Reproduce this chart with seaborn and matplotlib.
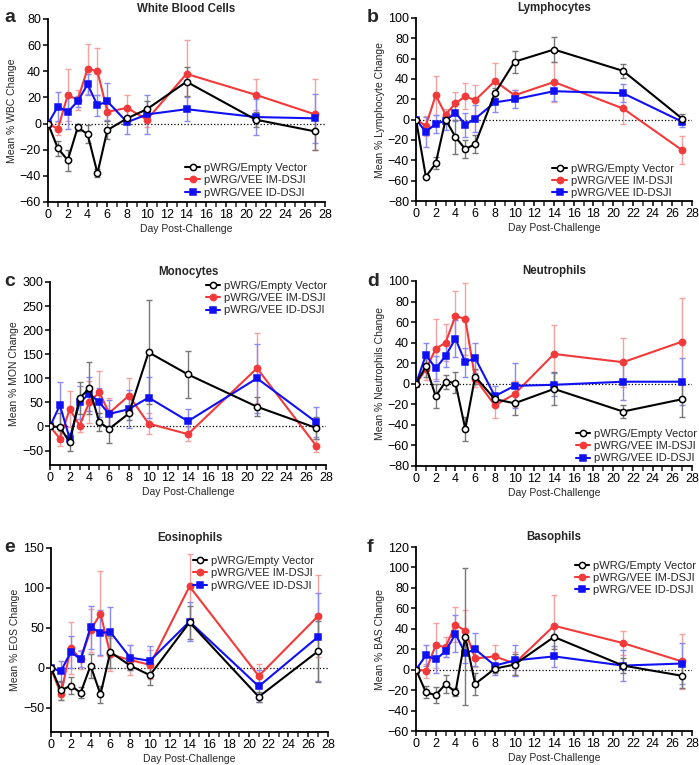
import matplotlib
matplotlib.use("Agg")
import numpy as np
import pandas as pd
import seaborn as sns
import matplotlib.pyplot as plt
from matplotlib.ticker import MultipleLocator

sns.set_style("ticks")
plt.rcParams['font.family'] = ['Liberation Sans', 'DejaVu Sans']

# days sampled
days = [0, 1, 2, 3, 4, 5, 6, 8, 10, 14, 21, 27]
groups = ['pWRG/Empty Vector', 'pWRG/VEE IM-DSJI', 'pWRG/VEE ID-DSJI']

# a - white blood cells
wbc_empty = [0, -19, -28, -3, -8, -38, -5, 4, 11, 32, 3, -6]
wbc_empty_err = [0, 6, 8, 3, 7, 3, 7, 2, 6, 11, 6, 14]
wbc_im = [0, -4, 22, 18, 42, 40, 9, 12, 3, 38, 22, 7]
wbc_im_err = [0, 5, 20, 8, 19, 18, 7, 10, 6, 26, 12, 27]
wbc_id = [0, 13, 9, 17, 30, 14, 17, 1, 7, 11, 5, 4]
wbc_id_err = [0, 11, 13, 4, 8, 8, 14, 9, 15, 9, 14, 19]

# b - lymphocytes
lym_empty = [0, -56, -43, 0, -17, -29, -24, 26, 57, 69, 48, 1]
lym_empty_err = [0, 2, 6, 3, 17, 9, 9, 5, 11, 12, 7, 5]
lym_im = [0, -6, 24, 5, 16, 23, 19, 38, 24, 37, 11, -30]
lym_im_err = [0, 10, 19, 5, 11, 13, 15, 18, 5, 20, 15, 14]
lym_id = [0, -12, -4, -1, 7, -5, 1, 17, 20, 28, 26, -2]
lym_id_err = [0, 15, 9, 9, 8, 12, 13, 9, 9, 10, 9, 5]

# c - monocytes
mon_empty = [0, -1, -33, 59, 79, 9, -5, 27, 154, 108, 41, -3]
mon_empty_err = [0, 30, 17, 33, 54, 19, 30, 13, 108, 48, 20, 22]
mon_im = [0, -25, 36, 2, 51, 71, 28, 64, 6, -16, 121, -40]
mon_im_err = [0, 16, 38, 13, 44, 44, 31, 37, 21, 15, 73, 13]
mon_id = [0, 44, -25, 50, 68, 50, 26, 36, 60, 11, 100, 9]
mon_id_err = [0, 48, 12, 35, 35, 30, 30, 40, 43, 26, 72, 31]

# d - neutrophils
neu_empty = [0, 17, -12, 2, 1, -44, 7, -15, -19, -5, -27, -15]
neu_empty_err = [0, 10, 12, 7, 10, 12, 7, 5, 11, 16, 6, 17]
neu_im = [0, 14, 34, 40, 66, 63, 5, -21, -10, 29, 21, 41]
neu_im_err = [0, 10, 29, 18, 24, 35, 8, 12, 13, 28, 24, 42]
neu_id = [0, 28, 15, 27, 44, 21, 25, -12, -2, -1, 2, 2]
neu_id_err = [0, 12, 12, 11, 18, 14, 15, 10, 22, 11, 18, 23]

# e - eosinophils
eos_empty = [0, -28, -22, -31, 3, -33, 20, 3, -9, 57, -36, 21]
eos_empty_err = [0, 12, 11, 7, 15, 11, 20, 6, 12, 21, 6, 38]
eos_im = [0, -33, 25, 11, 47, 68, 17, 10, 4, 102, -10, 65]
eos_im_err = [0, 7, 33, 12, 27, 53, 21, 19, 18, 40, 15, 51]
eos_id = [0, -4, 20, 11, 51, 44, 45, 13, 9, 58, -23, 39]
eos_id_err = [0, 13, 20, 10, 27, 28, 31, 16, 18, 24, 20, 55]

# f - basophils
bas_empty = [0, -22, -25, -14, -22, 32, -14, 1, 5, 32, 4, -6]
bas_empty_err = [0, 6, 8, 9, 4, 67, 11, 4, 10, 12, 7, 12]
bas_im = [0, -1, 24, 22, 44, 38, 11, 13, 6, 43, 26, 8]
bas_im_err = [0, 7, 22, 10, 17, 20, 8, 11, 11, 30, 12, 27]
bas_id = [0, 14, 10, 18, 35, 16, 20, 4, 9, 13, 4, 6]
bas_id_err = [0, 10, 13, 6, 18, 9, 16, 9, 15, 10, 15, 20]

panels = [
    ('a', 'White Blood Cells', 'Mean % WBC Change', (wbc_empty, wbc_im, wbc_id),
     (wbc_empty_err, wbc_im_err, wbc_id_err), (-60, 80), 20),
    ('b', 'Lymphocytes', 'Mean % Lymphocyte Change', (lym_empty, lym_im, lym_id),
     (lym_empty_err, lym_im_err, lym_id_err), (-80, 100), 20),
    ('c', 'Monocytes', 'Mean % MON Change', (mon_empty, mon_im, mon_id),
     (mon_empty_err, mon_im_err, mon_id_err), (-80, 300), 50),
    ('d', 'Neutrophils', 'Mean % Neutrophils Change', (neu_empty, neu_im, neu_id),
     (neu_empty_err, neu_im_err, neu_id_err), (-80, 100), 20),
    ('e', 'Eosinophils', 'Mean % EOS Change', (eos_empty, eos_im, eos_id),
     (eos_empty_err, eos_im_err, eos_id_err), (-80, 150), 50),
    ('f', 'Basophils', 'Mean % BAS Change', (bas_empty, bas_im, bas_id),
     (bas_empty_err, bas_im_err, bas_id_err), (-60, 120), 20),
]

W, H = 699, 765
# axes boxes in pixels: left, top, right, bottom
boxes = [(48, 19, 325, 202), (416, 18, 692, 201),
         (50, 282, 326, 465), (416, 281, 692, 466),
         (51, 548, 328, 732), (416, 547, 692, 731)]
letter_pos = [(4, 18), (367, 18), (4, 282), (367, 282), (4, 547), (367, 547)]
# legend corner (axes fraction) and which corner
leg_loc = [('lower right', (0.95, 0.0)), ('lower right', (0.95, -0.01)),
           ('upper right', (1.02, 1.03)), ('lower right', (1.035, -0.01)),
           ('upper right', (0.965, 0.98)), ('upper right', (1.03, 0.95))]

colors = ['black', '#f23a3a', '#1010f5']
err_colors = ['#777777', '#f7a0a0', '#8a8af7']
markers = ['o', 'o', 's']

fig = plt.figure(figsize=(W / 100, H / 100), dpi=100)

for i, (letter, title, ylabel, series, errs, ylim, ystep) in enumerate(panels):
    l, t, r, b = boxes[i]
    ax = fig.add_axes([l / W, 1 - b / H, (r - l) / W, (b - t) / H])
    ax.axhline(0, color='black', ls=':', lw=0.9, zorder=1)
    # error bars first, under the lines
    for k in [1, 2, 0]:
        ax.errorbar(days, series[k], yerr=errs[k], fmt='none', ecolor=err_colors[k],
                    elinewidth=1.0, capsize=2.5, capthick=1.0, zorder=2)
    for k in [1, 2, 0]:
        df = pd.DataFrame({'day': days, 'value': series[k]})
        sns.lineplot(data=df, x='day', y='value', ax=ax, color=colors[k], lw=1.5,
                     marker=markers[k], markersize=4.5,
                     markerfacecolor='white' if k == 0 else colors[k],
                     markeredgecolor=colors[k], markeredgewidth=1.1,
                     label=groups[k], zorder=3 + (k == 0))
    ax.set_xlim(0, 28)
    ax.set_ylim(*ylim)
    ax.xaxis.set_major_locator(MultipleLocator(2))
    ax.xaxis.set_minor_locator(MultipleLocator(1))
    ax.yaxis.set_major_locator(MultipleLocator(ystep))
    ax.tick_params(axis='both', which='major', labelsize=9, length=3.5, width=1.1,
                   pad=1.5, direction='out', colors='black')
    ax.tick_params(axis='x', which='minor', length=3.5, width=1.1)
    for s in ['left', 'bottom']:
        ax.spines[s].set_linewidth(1.3)
        ax.spines[s].set_color('black')
    sns.despine(ax=ax)
    ax.set_xlabel('Day Post-Challenge', fontsize=7.5, labelpad=2)
    ax.set_ylabel(ylabel, fontsize=7.5, labelpad=2)
    ax.set_title(title, fontsize=8.3, fontweight='bold', pad=5)
    h, lab = ax.get_legend_handles_labels()
    order = [lab.index(g) for g in groups]
    loc, anchor = leg_loc[i]
    ax.legend([h[j] for j in order], [lab[j] for j in order], loc=loc,
              bbox_to_anchor=anchor, frameon=False, fontsize=8,
              handlelength=1.3, handletextpad=0.35, labelspacing=0.2,
              borderaxespad=0.0, borderpad=0.4)
    fig.text(letter_pos[i][0] / W, 1 - letter_pos[i][1] / H, letter, fontsize=14,
             fontweight='bold', ha='left', va='center')

fig.savefig('out.png', dpi=100)
